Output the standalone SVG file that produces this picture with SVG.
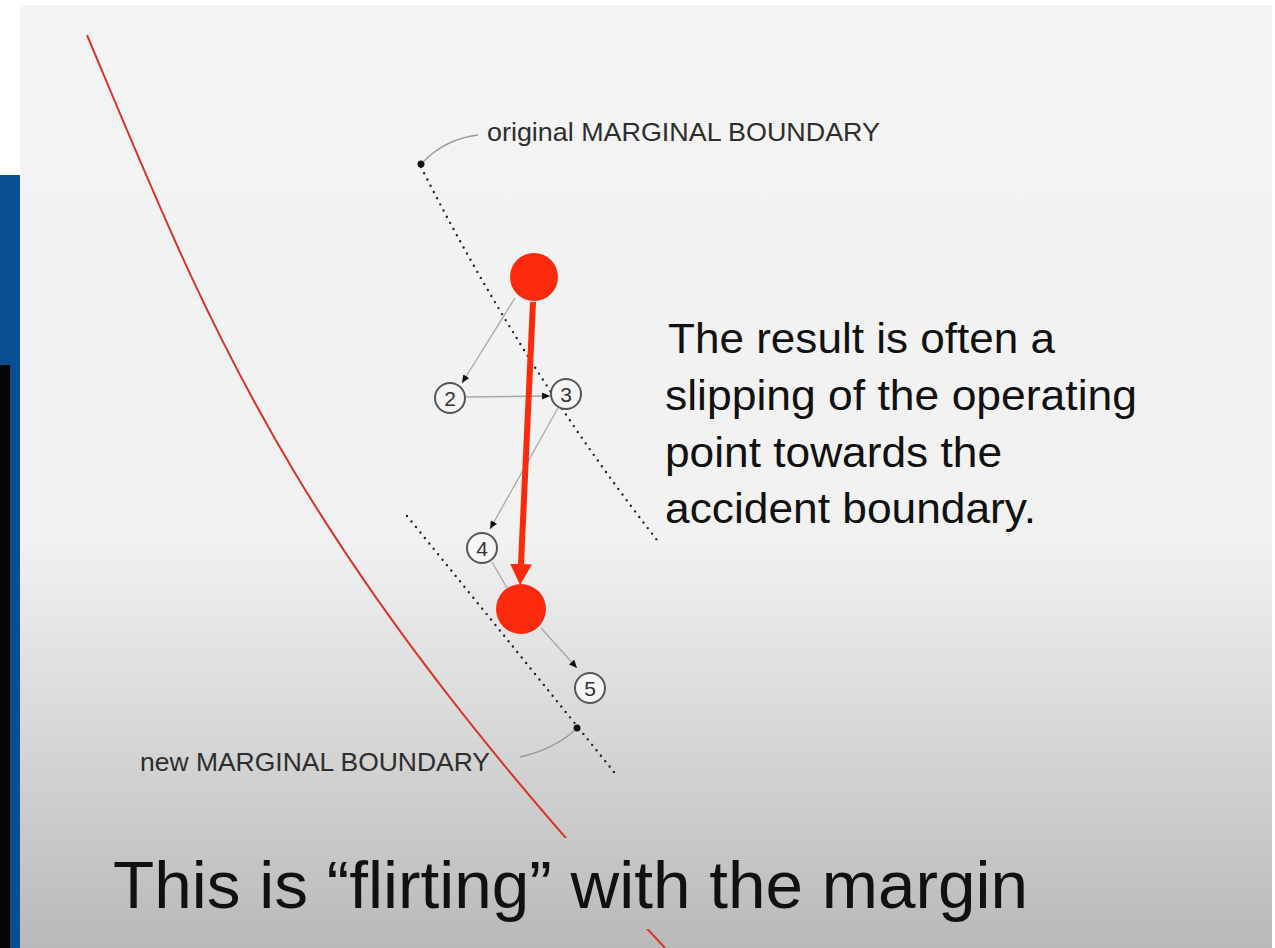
<svg xmlns="http://www.w3.org/2000/svg" width="1275" height="948" viewBox="0 0 1275 948">
<defs>
<linearGradient id="bg" x1="0" y1="0" x2="0" y2="1">
<stop offset="0" stop-color="#f3f4f3"/>
<stop offset="0.57" stop-color="#f0f1f0"/>
<stop offset="0.75" stop-color="#d9dad9"/>
<stop offset="1" stop-color="#b8b9b8"/>
</linearGradient>
<marker id="ga" markerUnits="userSpaceOnUse" markerWidth="10" markerHeight="8" refX="8" refY="3.5" orient="auto">
<path d="M0,0 L8,3.5 L0,7 z" fill="#111"/>
</marker>
<marker id="ra" markerUnits="userSpaceOnUse" markerWidth="22" markerHeight="24" refX="0" refY="11" orient="auto">
<path d="M0,0 L21,11 L0,22 z" fill="#fb2a0c"/>
</marker>
<clipPath id="gap">
<rect x="0" y="0" width="1275" height="838"/>
<rect x="0" y="929" width="1275" height="19"/>
</clipPath>
<style>
.lbl{font-family:"Liberation Sans",Arial,sans-serif;font-size:25px;fill:#2e2e2e}
.body{font-family:"Liberation Sans",Arial,sans-serif;font-size:42px;fill:#111}
.title{font-family:"Liberation Sans",Arial,sans-serif;font-size:67px;fill:#111}
.num{font-family:"Liberation Sans",Arial,sans-serif;font-size:21px;fill:#333;text-anchor:middle}
.nc{fill:#f5f5f5;stroke:#555;stroke-width:2}
.op{fill:#fb2a0c}
.thin{stroke:#a8a8a8;stroke-width:1.3;fill:none}
.dots{stroke:#222;stroke-width:2.4;stroke-linecap:round;stroke-dasharray:0 7;fill:none}
.lead{stroke:#999;stroke-width:1.3;fill:none}
</style>
</defs>

<!-- background -->
<rect x="0" y="0" width="1275" height="948" fill="#ffffff"/>
<rect x="0" y="175" width="20" height="773" fill="#0b4f92"/>
<rect x="0" y="365" width="10" height="583" fill="#050505"/>
<rect x="20" y="5" width="1252" height="943" fill="url(#bg)"/>

<!-- accident boundary -->
<g id="accident-boundary">
<path d="M87,35 C213,335 293,548 665,948" fill="none" stroke="#d8362c" stroke-width="2" clip-path="url(#gap)"/>
</g>

<!-- original marginal boundary -->
<g id="original-boundary">
<path class="dots" d="M421,167 Q522,367 657,540"/>
<circle cx="421" cy="164" r="3.5" fill="#111"/>
<path class="lead" d="M424,161 Q446,139 478,135"/>
<text class="lbl" x="487" y="141" textLength="393" lengthAdjust="spacingAndGlyphs">original MARGINAL BOUNDARY</text>
</g>

<!-- new marginal boundary -->
<g id="new-boundary">
<path class="dots" d="M407,516 Q520,655 618,777"/>
<circle cx="577" cy="728" r="3.5" fill="#111"/>
<path class="lead" d="M574,731 Q552,750 520,757"/>
<text class="lbl" x="140" y="771" textLength="350" lengthAdjust="spacingAndGlyphs">new MARGINAL BOUNDARY</text>
</g>

<!-- connectors -->
<g id="connectors">
<line class="thin" x1="515" y1="298" x2="462" y2="383" marker-end="url(#ga)"/>
<line class="thin" x1="466" y1="397" x2="550" y2="396" marker-end="url(#ga)"/>
<line class="thin" x1="558" y1="408" x2="490" y2="529" marker-end="url(#ga)"/>
<line class="thin" x1="492" y1="562" x2="507" y2="588"/>
<line class="thin" x1="541" y1="628" x2="577" y2="668" marker-end="url(#ga)"/>
<line x1="533" y1="302" x2="521" y2="564" stroke="#fb2a0c" stroke-width="6" marker-end="url(#ra)"/>
</g>

<!-- operating points -->
<g id="op-start"><circle class="op" cx="534" cy="277" r="24"/></g>
<g id="op-end"><circle class="op" cx="521" cy="609" r="25"/></g>

<g id="n2"><circle class="nc" cx="450" cy="398" r="15"/><text class="num" x="450" y="406">2</text></g>
<g id="n3"><circle class="nc" cx="566" cy="394" r="15"/><text class="num" x="566" y="402">3</text></g>
<g id="n4"><circle class="nc" cx="482" cy="548" r="15"/><text class="num" x="482" y="556">4</text></g>
<g id="n5"><circle class="nc" cx="590" cy="688" r="15"/><text class="num" x="590" y="696">5</text></g>

<!-- explanation -->
<g id="explanation">
<text class="body" x="668" y="353" textLength="387" lengthAdjust="spacingAndGlyphs">The result is often a</text>
<text class="body" x="665" y="410" textLength="472" lengthAdjust="spacingAndGlyphs">slipping of the operating</text>
<text class="body" x="665" y="467" textLength="337" lengthAdjust="spacingAndGlyphs">point towards the</text>
<text class="body" x="665" y="523" textLength="371" lengthAdjust="spacingAndGlyphs">accident boundary.</text>
</g>

<g id="title">
<text class="title" x="113" y="908" textLength="915" lengthAdjust="spacingAndGlyphs">This is “flirting” with the margin</text>
</g>
</svg>
